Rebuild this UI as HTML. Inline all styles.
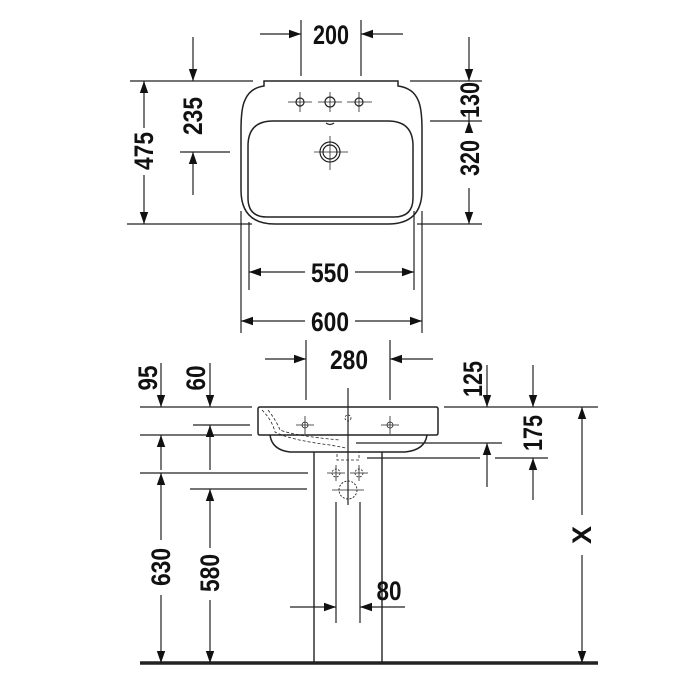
<!DOCTYPE html>
<html><head><meta charset="utf-8"><style>
html,body{margin:0;padding:0;background:#fff;}
svg{display:block;}
text{font-family:"Liberation Sans Narrow","Liberation Sans",sans-serif;font-weight:bold;font-size:27px;fill:#111;}
</style></head><body>
<svg width="700" height="700" viewBox="0 0 700 700" xmlns="http://www.w3.org/2000/svg">
<defs>
<marker id="a" viewBox="0 0 10 10" refX="10" refY="5" markerWidth="12" markerHeight="12" markerUnits="userSpaceOnUse" orient="auto"><path d="M0,1.5 L10,5 L0,8.5 Z" fill="#111"/></marker>
</defs>
<g stroke="#222" stroke-width="1.2" fill="none">
<!-- TOP VIEW -->
<line x1="301" y1="20" x2="301" y2="76"/><line x1="361" y1="20" x2="361" y2="76"/>
<line x1="260" y1="34" x2="301" y2="34" marker-end="url(#a)"/><line x1="403" y1="34" x2="361" y2="34" marker-end="url(#a)"/>
<path d="M264,81 L264,86 Q250,88 245,100 Q241,108 241,130 L241,190 Q241,224 275,224 L388,224 Q422,224 422,190 L422,130 Q422,108 418,100 Q413,88 398,86 L398,81 Z" stroke-width="1.5"/>
<path d="M273,121 L388,121 Q413,121 413,146 L413,198 Q413,217 394,217 L267,217 Q248,217 248,198 L248,146 Q248,121 273,121 Z" stroke-width="1.5"/>
<circle cx="300" cy="102" r="4"/><circle cx="330" cy="102" r="5"/><circle cx="359" cy="102" r="4"/>
<line x1="288" y1="102" x2="312" y2="102" stroke-width="0.8"/><line x1="300" y1="92" x2="300" y2="112" stroke-width="0.8"/>
<line x1="318" y1="102" x2="342" y2="102" stroke-width="0.8"/><line x1="330" y1="92" x2="330" y2="112" stroke-width="0.8"/>
<line x1="347" y1="102" x2="372" y2="102" stroke-width="0.8"/><line x1="359" y1="92" x2="359" y2="112" stroke-width="0.8"/>
<circle cx="330" cy="152" r="10"/><circle cx="330" cy="152" r="7"/>
<line x1="314" y1="152" x2="348" y2="152" stroke-width="0.8"/><line x1="330" y1="136" x2="330" y2="170" stroke-width="0.8"/>
<path d="M326,123 Q330,126 334,123"/>
<!-- left dims -->
<line x1="130" y1="81" x2="253" y2="81"/><line x1="127" y1="224" x2="252" y2="224"/>
<line x1="144" y1="128" x2="144" y2="81" marker-end="url(#a)"/><line x1="144" y1="175" x2="144" y2="224" marker-end="url(#a)"/>
<line x1="193" y1="37" x2="193" y2="81" marker-end="url(#a)"/><line x1="193" y1="195" x2="193" y2="152" marker-end="url(#a)"/>
<line x1="180" y1="152" x2="230" y2="152"/>
<!-- right dims -->
<line x1="410" y1="81" x2="482" y2="81"/><line x1="430" y1="121" x2="482" y2="121"/><line x1="417" y1="224" x2="482" y2="224"/>
<line x1="469" y1="37" x2="469" y2="81" marker-end="url(#a)"/>
<line x1="469" y1="112" x2="469" y2="121" /><line x1="469" y1="132" x2="469" y2="121" marker-end="url(#a)"/>
<line x1="469" y1="188" x2="469" y2="224" marker-end="url(#a)"/>
<!-- 550/600 -->
<line x1="249" y1="222" x2="249" y2="290"/><line x1="414" y1="211" x2="414" y2="290"/>
<line x1="241" y1="211" x2="241" y2="333"/><line x1="422" y1="211" x2="422" y2="333"/>
<line x1="305" y1="272" x2="249" y2="272" marker-end="url(#a)"/><line x1="355" y1="272" x2="414" y2="272" marker-end="url(#a)"/>
<line x1="305" y1="321" x2="241" y2="321" marker-end="url(#a)"/><line x1="355" y1="321" x2="422" y2="321" marker-end="url(#a)"/>

<!-- SIDE VIEW -->
<line x1="306" y1="340" x2="306" y2="400"/><line x1="390" y1="340" x2="390" y2="400"/>
<line x1="265" y1="359" x2="306" y2="359" marker-end="url(#a)"/><line x1="433" y1="359" x2="390" y2="359" marker-end="url(#a)"/>
<path d="M260,407 L436,407 Q438,407 438,409 L438,433 Q438,435 436,435 L260,435 Q258,435 258,433 L258,409 Q258,407 260,407 Z" stroke-width="1.5"/>
<path d="M270,435 Q272,450 290,452 L405,452 Q425,450 427,435" stroke-width="1.5"/>
<path d="M262,410 Q272,420 275,432 Q290,440 330,445 L346,448" stroke-dasharray="3,2" stroke-width="0.8"/>
<path d="M268,410 Q276,420 280,430 Q295,436 340,440" stroke-dasharray="3,2" stroke-width="0.8"/>
<rect x="337" y="452" width="22" height="8" stroke-dasharray="3,2" stroke-width="0.8"/>
<circle cx="348" cy="418" r="3" stroke-dasharray="2,1.5" stroke-width="0.8"/>
<circle cx="305" cy="425" r="3" stroke-width="0.8"/><line x1="296" y1="425" x2="314" y2="425" stroke-width="0.8"/><line x1="305" y1="416" x2="305" y2="434" stroke-width="0.8"/>
<circle cx="390" cy="425" r="3" stroke-width="0.8"/><line x1="381" y1="425" x2="399" y2="425" stroke-width="0.8"/><line x1="390" y1="416" x2="390" y2="434" stroke-width="0.8"/>
<circle cx="336" cy="473" r="4" stroke-dasharray="2,1.5" stroke-width="0.8"/><line x1="327" y1="473" x2="345" y2="473" stroke-width="0.8"/><line x1="336" y1="465" x2="336" y2="481" stroke-width="0.8"/>
<circle cx="359" cy="473" r="4" stroke-dasharray="2,1.5" stroke-width="0.8"/><line x1="350" y1="473" x2="368" y2="473" stroke-width="0.8"/><line x1="359" y1="465" x2="359" y2="481" stroke-width="0.8"/>
<circle cx="348" cy="490" r="9" stroke-dasharray="2,1.5" stroke-width="0.9"/><line x1="332" y1="490" x2="364" y2="490" stroke-width="0.8"/>
<line x1="348" y1="388" x2="348" y2="505"/>
<line x1="314" y1="452" x2="314" y2="663" stroke-width="1.4"/><line x1="382" y1="452" x2="382" y2="663" stroke-width="1.4"/>
<line x1="140" y1="663" x2="598" y2="663" stroke-width="3.5"/>
<!-- 80 -->
<line x1="336" y1="502" x2="336" y2="623"/><line x1="360" y1="502" x2="360" y2="623"/>
<line x1="290" y1="607" x2="336" y2="607" marker-end="url(#a)"/><line x1="405" y1="607" x2="360" y2="607" marker-end="url(#a)"/>
<!-- left dims -->
<line x1="140" y1="407" x2="252" y2="407"/><line x1="193" y1="425" x2="250" y2="425"/><line x1="140" y1="435" x2="252" y2="435"/>
<line x1="140" y1="473" x2="308" y2="473"/><line x1="190" y1="489" x2="307" y2="489"/>
<line x1="161" y1="363" x2="161" y2="407" marker-end="url(#a)"/><line x1="210" y1="363" x2="210" y2="407" marker-end="url(#a)"/>
<line x1="161" y1="470" x2="161" y2="435" marker-end="url(#a)"/><line x1="210" y1="470" x2="210" y2="425" marker-end="url(#a)"/>
<line x1="161" y1="540" x2="161" y2="473" marker-end="url(#a)"/><line x1="161" y1="595" x2="161" y2="663" marker-end="url(#a)"/>
<line x1="210" y1="548" x2="210" y2="489" marker-end="url(#a)"/><line x1="210" y1="600" x2="210" y2="663" marker-end="url(#a)"/>
<!-- right dims -->
<line x1="444" y1="407" x2="598" y2="407"/><line x1="356" y1="443" x2="502" y2="443"/>
<line x1="367" y1="458" x2="480" y2="458"/><line x1="495" y1="458" x2="548" y2="458"/>
<line x1="487" y1="365" x2="487" y2="407" marker-end="url(#a)"/><line x1="487" y1="487" x2="487" y2="443" marker-end="url(#a)"/>
<line x1="533" y1="365" x2="533" y2="407" marker-end="url(#a)"/><line x1="533" y1="500" x2="533" y2="458" marker-end="url(#a)"/>
<line x1="582" y1="515" x2="582" y2="407" marker-end="url(#a)"/><line x1="582" y1="555" x2="582" y2="663" marker-end="url(#a)"/>
</g>
<g text-anchor="middle">
<text x="331" y="44" textLength="36" lengthAdjust="spacingAndGlyphs">200</text>
<text x="330" y="282" textLength="38" lengthAdjust="spacingAndGlyphs">550</text>
<text x="330" y="331" textLength="38" lengthAdjust="spacingAndGlyphs">600</text>
<text transform="translate(153,151) rotate(-90)" textLength="38" lengthAdjust="spacingAndGlyphs">475</text>
<text transform="translate(202,116) rotate(-90)" textLength="38" lengthAdjust="spacingAndGlyphs">235</text>
<text transform="translate(479,100) rotate(-90)" textLength="36" lengthAdjust="spacingAndGlyphs">130</text>
<text transform="translate(479,158) rotate(-90)" textLength="36" lengthAdjust="spacingAndGlyphs">320</text>
<text x="349" y="369" textLength="38" lengthAdjust="spacingAndGlyphs">280</text>
<text x="389" y="600" textLength="25" lengthAdjust="spacingAndGlyphs">80</text>
<text transform="translate(157,378) rotate(-90)" textLength="25" lengthAdjust="spacingAndGlyphs">95</text>
<text transform="translate(205,378) rotate(-90)" textLength="25" lengthAdjust="spacingAndGlyphs">60</text>
<text transform="translate(482,379) rotate(-90)" textLength="36" lengthAdjust="spacingAndGlyphs">125</text>
<text transform="translate(542,433) rotate(-90)" textLength="36" lengthAdjust="spacingAndGlyphs">175</text>
<text transform="translate(170,567) rotate(-90)" textLength="38" lengthAdjust="spacingAndGlyphs">630</text>
<text transform="translate(219,573) rotate(-90)" textLength="38" lengthAdjust="spacingAndGlyphs">580</text>
<text transform="translate(591,535) rotate(-90)">X</text>
</g>
</svg>
</body></html>
